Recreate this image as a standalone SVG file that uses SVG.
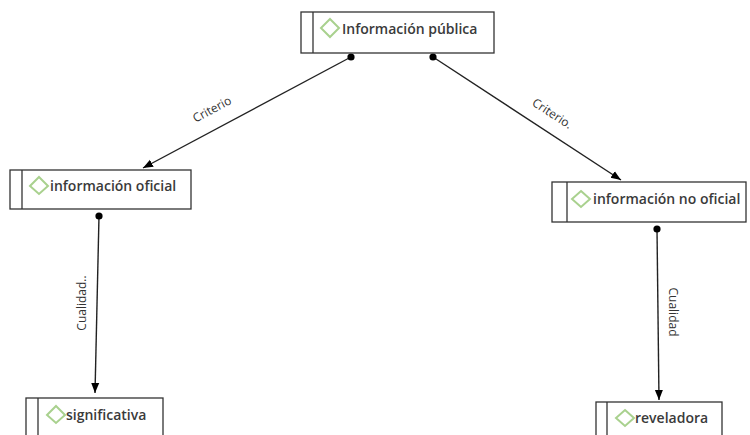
<svg xmlns="http://www.w3.org/2000/svg" width="750" height="435" viewBox="0 0 750 435">
<style>
.box{fill:#fff;stroke:#333;stroke-width:1.3}
.div{stroke:#333;stroke-width:1.3}
.dia{fill:none;stroke:#a9d18e;stroke-width:2}
.nt{font-family:"Open Sans","Noto Sans",sans-serif;font-size:14px;font-weight:600;fill:#3a3a3a}
.lt{font-family:"Open Sans","Noto Sans",sans-serif;font-size:12px;fill:#333}
.con{stroke:#222;stroke-width:1.4;fill:none;marker-start:url(#dot);marker-end:url(#arr)}
</style>
<defs>
<marker id="dot" viewBox="0 0 8 8" refX="4" refY="4" markerWidth="8" markerHeight="8" markerUnits="userSpaceOnUse"><circle cx="4" cy="4" r="3.6" fill="#000"/></marker>
<marker id="arr" viewBox="0 0 10 10" refX="10" refY="5" markerWidth="10" markerHeight="10" markerUnits="userSpaceOnUse" orient="auto"><path d="M0,1 L10,5 L0,9 Z" fill="#000"/></marker>
</defs>
<rect width="750" height="435" fill="#fff"/>
<g id="connectors">
<path class="con" d="M351,57 L143,168"/>
<path class="con" d="M433,57 L621,180"/>
<path class="con" d="M99,216 L95,393"/>
<path class="con" d="M657,229 L659,400"/>
<text class="lt" text-anchor="middle" transform="translate(214,113) rotate(-28)">Criterio</text>
<text class="lt" text-anchor="middle" transform="translate(550,117) rotate(33)">Criterio.</text>
<text class="lt" text-anchor="middle" transform="translate(86,303) rotate(-90)">Cualidad..</text>
<text class="lt" text-anchor="middle" transform="translate(669,312) rotate(90)">Cualidad</text>
</g>
<g id="n1">
<rect class="box" x="301" y="12" width="193" height="41"/>
<line class="div" x1="313" y1="12" x2="313" y2="53"/>
<path class="dia" d="M330,19 L339,28 L330,37 L321,28 Z"/>
<text class="nt" x="342" y="34">Información pública</text>
</g>
<g id="n2">
<rect class="box" x="10" y="170" width="181" height="39"/>
<line class="div" x1="22" y1="170" x2="22" y2="209"/>
<path class="dia" d="M39,177 L48,186 L39,194 L30,186 Z"/>
<text class="nt" x="50" y="191">información oficial</text>
</g>
<g id="n3">
<rect class="box" x="552" y="182" width="194" height="40"/>
<line class="div" x1="567" y1="182" x2="567" y2="222"/>
<path class="dia" d="M581,191 L590,199 L581,207 L572,199 Z"/>
<text class="nt" x="593" y="204">información no oficial</text>
</g>
<g id="n4">
<rect class="box" x="26" y="398" width="137" height="50"/>
<line class="div" x1="38" y1="398" x2="38" y2="448"/>
<path class="dia" d="M56,406 L65,415 L56,423 L47,415 Z"/>
<text class="nt" x="66" y="420">significativa</text>
</g>
<g id="n5">
<rect class="box" x="596" y="402" width="126" height="50"/>
<line class="div" x1="607" y1="402" x2="607" y2="452"/>
<path class="dia" d="M625,410 L634,418 L625,426 L616,418 Z"/>
<text class="nt" x="635" y="423">reveladora</text>
</g>
</svg>
